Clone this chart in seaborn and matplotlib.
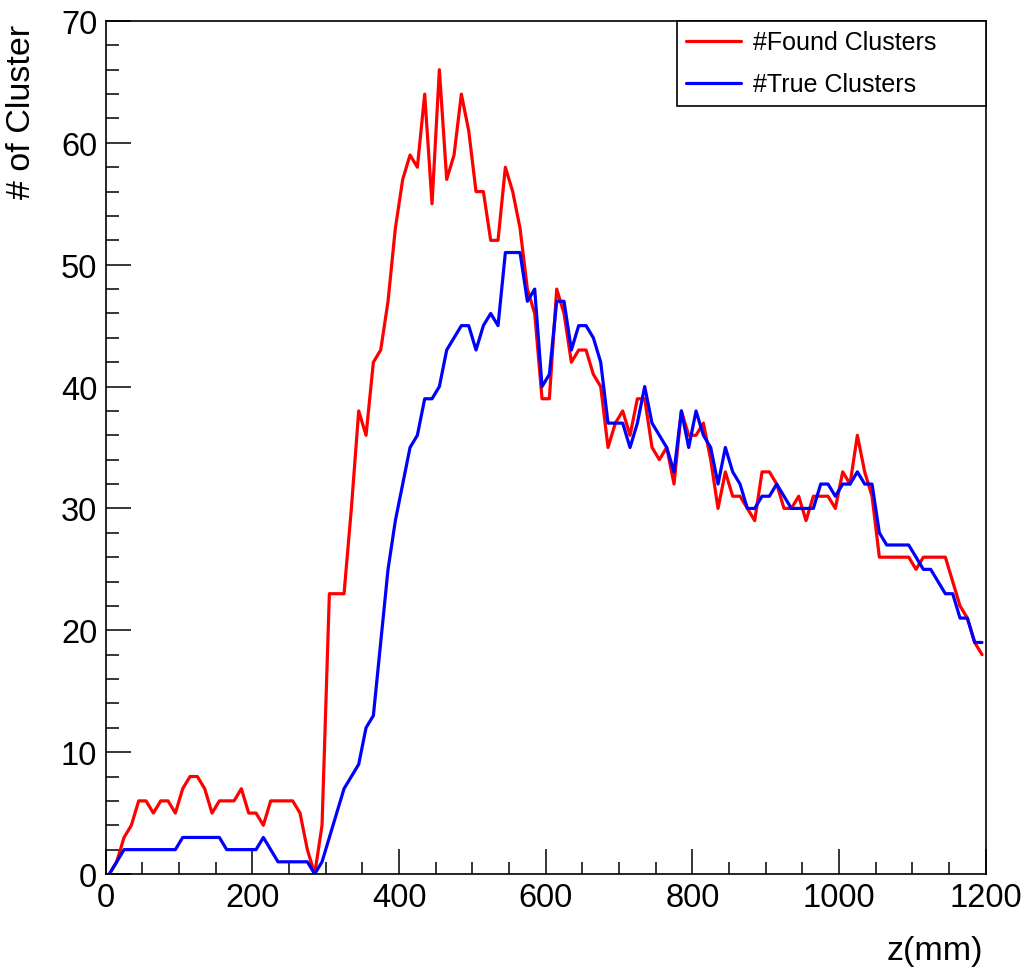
import numpy as np
import pandas as pd
import matplotlib
matplotlib.use("Agg")
import matplotlib.pyplot as plt
from matplotlib.ticker import MultipleLocator
import seaborn as sns

# Cluster counts per 10 mm slice along z (bin centres)
z_mm = np.arange(5, 1200, 10)

found_clusters = [
    0, 1, 3, 4, 6, 6, 5, 6, 6, 5,
    7, 8, 8, 7, 5, 6, 6, 6, 7, 5,
    5, 4, 6, 6, 6, 6, 5, 2, 0, 4,
    23, 23, 23, 30, 38, 36, 42, 43, 47, 53,
    57, 59, 58, 64, 55, 66, 57, 59, 64, 61,
    56, 56, 52, 52, 58, 56, 53, 48, 46, 39,
    39, 48, 46, 42, 43, 43, 41, 40, 35, 37,
    38, 36, 39, 39, 35, 34, 35, 32, 38, 36,
    36, 37, 34, 30, 33, 31, 31, 30, 29, 33,
    33, 32, 30, 30, 31, 29, 31, 31, 31, 30,
    33, 32, 36, 33, 31, 26, 26, 26, 26, 26,
    25, 26, 26, 26, 26, 24, 22, 21, 19, 18,
]

true_clusters = [
    0, 1, 2, 2, 2, 2, 2, 2, 2, 2,
    3, 3, 3, 3, 3, 3, 2, 2, 2, 2,
    2, 3, 2, 1, 1, 1, 1, 1, 0, 1,
    3, 5, 7, 8, 9, 12, 13, 19, 25, 29,
    32, 35, 36, 39, 39, 40, 43, 44, 45, 45,
    43, 45, 46, 45, 51, 51, 51, 47, 48, 40,
    41, 47, 47, 43, 45, 45, 44, 42, 37, 37,
    37, 35, 37, 40, 37, 36, 35, 33, 38, 35,
    38, 36, 35, 32, 35, 33, 32, 30, 30, 31,
    31, 32, 31, 30, 30, 30, 30, 32, 32, 31,
    32, 32, 33, 32, 32, 28, 27, 27, 27, 27,
    26, 25, 25, 24, 23, 23, 21, 21, 19, 19,
]

series_names = ["#Found Clusters", "#True Clusters"]
series_colors = ["#ff0000", "#0000ff"]

df = pd.concat([
    pd.DataFrame({"z": z_mm, "count": found_clusters, "series": series_names[0]}),
    pd.DataFrame({"z": z_mm, "count": true_clusters, "series": series_names[1]}),
], ignore_index=True)

sns.set_style("ticks")
plt.rcParams["font.family"] = ["Liberation Sans", "DejaVu Sans"]
plt.rcParams["text.color"] = "black"
plt.rcParams["axes.labelcolor"] = "black"
plt.rcParams["xtick.color"] = "black"
plt.rcParams["ytick.color"] = "black"

fig = plt.figure(figsize=(10.24, 9.70), dpi=100)
ax = fig.add_axes([105.7 / 1024, 1 - 875 / 970, 880 / 1024, 853 / 970])

sns.lineplot(
    data=df, x="z", y="count", hue="series",
    palette=dict(zip(series_names, series_colors)),
    linewidth=2.3, ax=ax, legend=True,
)

ax.set_xlim(0, 1200)
ax.set_ylim(0, 70)

ax.xaxis.set_major_locator(MultipleLocator(200))
ax.xaxis.set_minor_locator(MultipleLocator(50))
ax.yaxis.set_major_locator(MultipleLocator(10))
ax.yaxis.set_minor_locator(MultipleLocator(2))

ax.tick_params(axis="both", which="both", direction="in",
               top=False, right=False, width=1.1, color="black",
               labelcolor="black")
ax.tick_params(axis="both", which="major", length=18, labelsize=23.5)
ax.tick_params(axis="both", which="minor", length=9)
ax.tick_params(axis="x", which="major", pad=6)
ax.tick_params(axis="y", which="major", pad=6)

for spine in ax.spines.values():
    spine.set_visible(True)
    spine.set_color("black")
    spine.set_linewidth(1.2)

ax.set_xlabel("z(mm)", fontsize=24.5, loc="right", color="black")
ax.set_ylabel("# of Cluster", fontsize=24.5, loc="top", color="black")
ax.xaxis.set_label_coords(0.997, -0.072)
ax.yaxis.set_label_coords(-0.078, 0.9965)

leg = ax.legend(
    handles=ax.get_legend_handles_labels()[0],
    labels=series_names,
    loc="upper left",
    bbox_to_anchor=(0.649, 0.0, 0.351, 1.0),
    mode="expand",
    borderaxespad=0.0,
    fontsize=18,
    handlelength=2.2,
    handletextpad=0.45,
    labelspacing=0.72,
    borderpad=0.38,
    fancybox=False,
    frameon=True,
)
leg.get_frame().set_edgecolor("black")
leg.get_frame().set_linewidth(1.2)
leg.get_frame().set_alpha(1.0)
for line in leg.get_lines():
    line.set_linewidth(2.3)
for txt in leg.get_texts():
    txt.set_color("black")

fig.savefig("out.png", dpi=100)
